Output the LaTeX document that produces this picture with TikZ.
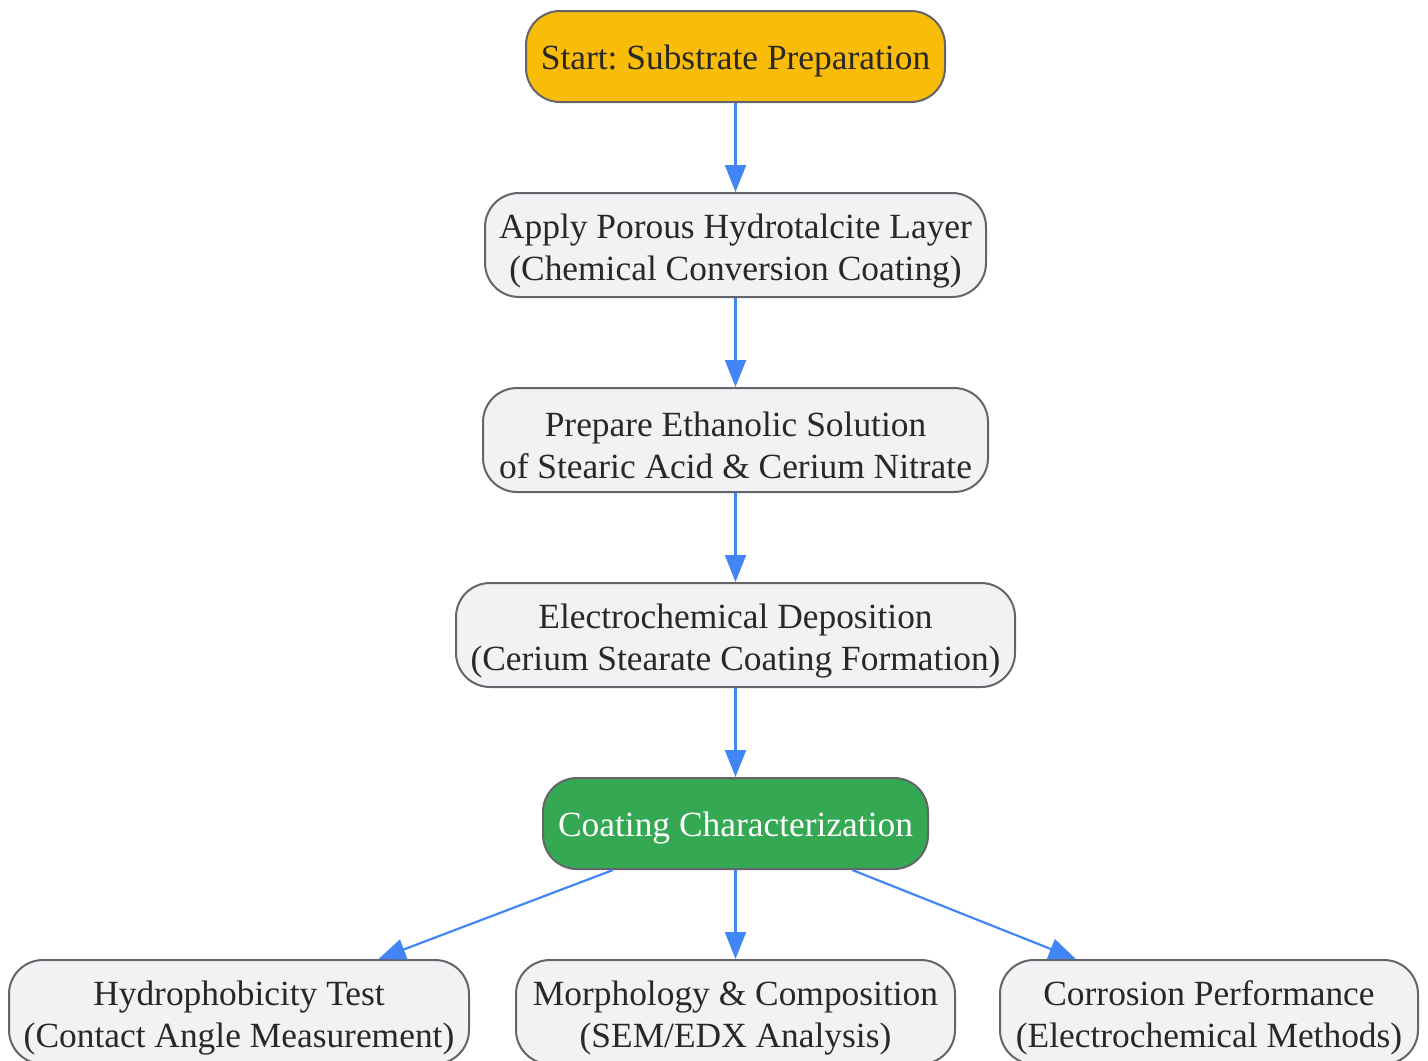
\documentclass[tikz,border=0pt]{standalone}
\usepackage{fontspec}
\setmainfont{Liberation Serif}
\usepackage{tikz}
\usetikzlibrary{arrows.meta}
\definecolor{startyellow}{RGB}{249, 188, 8}
\definecolor{chargreen}{RGB}{52, 168, 83}
\definecolor{stepgrey}{RGB}{241, 242, 244}
\definecolor{bordergrey}{RGB}{100, 100, 106}
\definecolor{flowblue}{RGB}{66, 133, 244}
\definecolor{textgrey}{RGB}{40, 40, 40}
\frenchspacing

\begin{document}
\begin{tikzpicture}[x=0.5pt, y=-0.5pt,
  stepbox/.style={draw=bordergrey, line width=1pt, fill=stepgrey, rounded corners=17pt,
    text=textgrey, align=center, minimum height=52pt, inner sep=0pt,
    font=\fontsize{17.7pt}{21pt}\selectfont, text height=39pt},
  onestep/.style={stepbox, minimum height=45.5pt, text height=17pt},
  flow/.style={draw=flowblue, line width=1.1pt, -{Triangle[length=13.5pt, width=10.5pt]}}]
  \clip (0,0) rectangle (1428,1060);
  \node[onestep, fill=startyellow, minimum width=209.5pt] (start) at (735.5,56.5)
    {Start: Substrate Preparation};
  \node[stepbox, minimum width=250.5pt] (apply) at (735.5,245)
    {Apply Porous Hydrotalcite Layer\\(Chemical Conversion Coating)};
  \node[stepbox, minimum width=252.5pt] (prepare) at (735.5,440)
    {Prepare Ethanolic Solution\\of Stearic Acid \& Cerium Nitrate};
  \node[stepbox, minimum width=279.5pt] (deposit) at (735.5,635)
    {Electrochemical Deposition\\(Cerium Stearate Coating Formation)};
  \node[onestep, fill=chargreen, text=white, minimum width=192.5pt] (charact) at (735.5,823.5)
    {Coating Characterization};
  \node[stepbox, minimum width=230pt] (hydro) at (239,1012)
    {Hydrophobicity Test\\(Contact Angle Measurement)};
  \node[stepbox, minimum width=219.5pt] (morph) at (735.5,1012)
    {Morphology \& Composition\\(SEM/EDX Analysis)};
  \node[stepbox, minimum width=209pt] (corros) at (1209,1012)
    {Corrosion Performance\\(Electrochemical Methods)};
  % main sequence
  \draw[flow] (start) -- (apply);
  \draw[flow] (apply) -- (prepare);
  \draw[flow] (prepare) -- (deposit);
  \draw[flow] (deposit) -- (charact);
  % characterization branches
  \draw[flow] (charact) -- (hydro);
  \draw[flow] (charact) -- (morph);
  \draw[flow] (charact) -- (corros);
\end{tikzpicture}
\end{document}
